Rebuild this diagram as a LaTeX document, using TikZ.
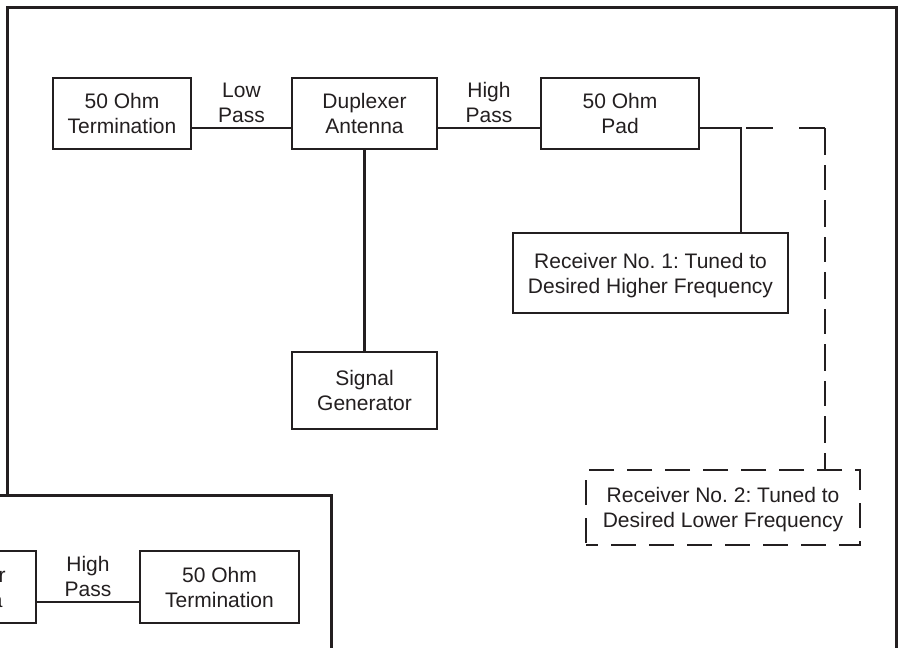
\documentclass[tikz,border=0pt]{standalone}
\usepackage{fontspec}
\setmainfont{Liberation Sans}
\usetikzlibrary{calc}
\definecolor{ink}{RGB}{35,31,32}
\frenchspacing
\begin{document}
\begin{tikzpicture}[x=1pt,y=-1pt,
  box/.style={draw=ink, line width=2.8pt, minimum width=#1, align=center, inner sep=0pt,
    text depth=0pt, font=\fontsize{21}{25}\selectfont\frenchspacing, text=ink},
  lbl/.style={align=center, inner sep=0pt, text depth=0pt, font=\fontsize{21}{25}\selectfont, text=ink},
  wire/.style={draw=ink, line width=2.6pt},
  frame/.style={draw=ink, line width=3pt},
  dashbox/.style={dash pattern=on 25pt off 13pt, dash phase=13pt, line width=2.8pt},
  dashh/.style={draw=ink, line width=2.8pt, dash pattern=on 27pt off 26pt},
  dashv/.style={draw=ink, line width=2.8pt, dash pattern=on 27pt off 10pt on 25pt off 10pt}]
\clip (0,0) rectangle (900,648);
\fill[white] (0,0) rectangle (900,648);
% outer frame
\draw[frame] (7,7) rectangle (896,700);
% upper row
\node[box=138pt, minimum height=71pt] (t1) at (122,113.5) {50 Ohm\\Termination};
\node[box=145pt, minimum height=71pt] (dup) at (364.5,113.5) {Duplexer\\Antenna};
\node[box=158pt, minimum height=71pt] (pad) at (620,113.5) {50 Ohm\\Pad};
\node[box=275pt, minimum height=80pt] (rx1) at (650.5,273) {Receiver No. 1: Tuned to\\Desired Higher Frequency};
\node[box=145pt, minimum height=77pt] (sig) at (364.5,390.5) {Signal\\Generator};
\node[box=274pt, minimum height=75pt, dashbox] (rx2) at (723,507.5) {Receiver No. 2: Tuned to\\Desired Lower Frequency};
\node[lbl, yshift=11pt] (lp) at ($(t1.east)!0.5!(dup.west)$) {Low\\Pass};
\node[lbl, yshift=11pt] (hp) at ($(dup.east)!0.5!(pad.west)$) {High\\Pass};
\draw[wire] ([yshift=-14.5pt]t1.east) -- ([yshift=-14.5pt]dup.west);
\draw[wire] ([yshift=-14.5pt]dup.east) -- ([yshift=-14.5pt]pad.west);
\draw[wire] (dup.south) -- (sig.north);
\coordinate (j) at (741,128);
\coordinate (k) at (825,128);
\draw[wire] ([yshift=-14.5pt]pad.east) -- (j) -- (j |- rx1.north);
\draw[dashh] ([xshift=5pt]j) -- (k);
\draw[dashv] (k) -- (k |- rx2.north);
% lower frame (second set-up, partly off the page)
\draw[frame, fill=white] (-20,495) rectangle (331,700);
\node[box=145pt, minimum height=72pt] (dup2) at (-36.5,587) {Duplexer\\Antenna};
\node[box=159pt, minimum height=72pt] (t2) at (219.5,587) {50 Ohm\\Termination};
\node[lbl, yshift=11pt] (hp2) at ($(dup2.east)!0.5!(t2.west)$) {High\\Pass};
\draw[wire] ([yshift=-15pt]dup2.east) -- ([yshift=-15pt]t2.west);
\end{tikzpicture}
\end{document}
